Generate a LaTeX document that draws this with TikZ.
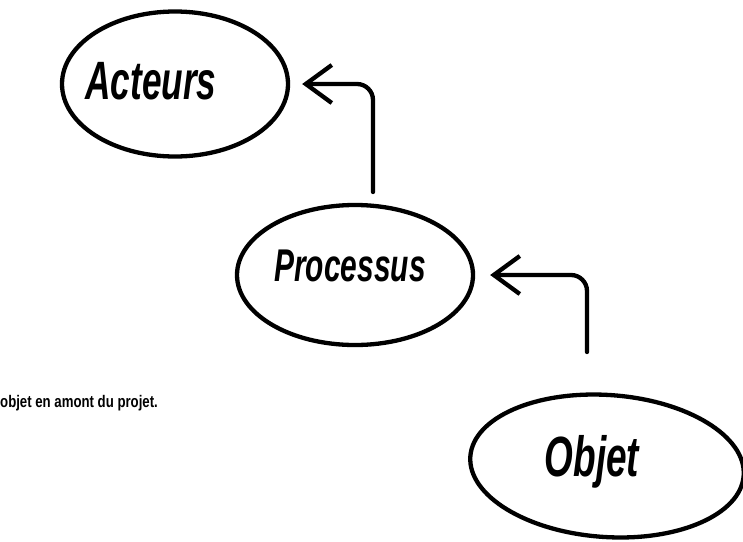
\documentclass[tikz,border=0pt]{standalone}
\usepackage{fontspec}
\usepackage{graphicx}
\setmainfont{Liberation Sans}
\usetikzlibrary{shapes.geometric,arrows.meta}
\newcommand{\hwtxt}[2]{\scalebox{0.88}[1.35]{\fontsize{#1}{#1}\selectfont\itshape\bfseries #2}}
\newcommand{\notefmt}[1]{\scalebox{0.88}[1.12]{\fontsize{15}{17}\selectfont\bfseries #1}}
\tikzset{
  ell/.style={ellipse, draw=black, line width=4.3pt, inner sep=0pt},
  hw/.style={inner sep=0pt, text=black},
  arr/.style={draw=black, line width=4.3pt, rounded corners=16pt, line cap=round,
    -{Straight Barb[length=26pt, width=38pt, line width=4.3pt]}},
  notetxt/.style={inner sep=0pt, anchor=base west}
}
\begin{document}
\begin{tikzpicture}[x=1pt,y=-1pt]
\useasboundingbox (0,0) rectangle (743,541);
\node[ell, minimum width=226pt, minimum height=145pt] (act) at (175,84) {};
\node[ell, minimum width=236pt, minimum height=140pt] (proc) at (355,275) {};
\node[ell, minimum width=274pt, minimum height=142pt, rotate=-4] (obj) at (607,466) {};
\node[hw] (tact) at (151,81) {\hwtxt{40}{Acteurs}};
\node[hw] (tproc) at (350,266) {\hwtxt{34}{Processus}};
\node[hw] (tobj) at (592,462) {\hwtxt{42}{Objet}};
\coordinate (s1) at (373,192);
\coordinate (s2) at (587,352);
\draw[arr, shorten >=12pt] (s1) |- (act.east);
\draw[arr, shorten >=15pt] (s2) |- (proc.east);
\node[notetxt] (note) at (0,407) {\notefmt{objet en amont du projet.}};
\end{tikzpicture}
\end{document}
